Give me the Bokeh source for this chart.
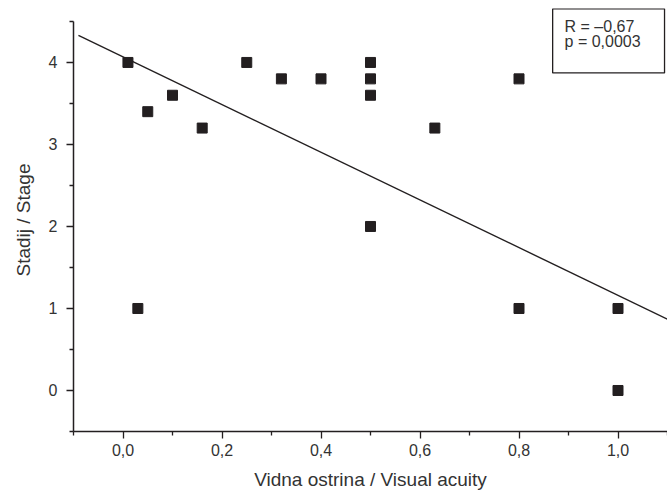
from bokeh.plotting import figure
from bokeh.models import Range1d, FixedTicker, CustomJSTickFormatter, Label
from bokeh.embed import file_html
from bokeh.resources import INLINE

# ---- data ----
visual_acuity = [0.01, 0.05, 0.10, 0.16, 0.03, 0.25, 0.32, 0.40, 0.50, 0.50, 0.50, 0.50, 0.63, 0.80, 0.80, 1.00, 1.00]
stage =         [4.0,  3.4,  3.6,  3.2,  1.0,  4.0,  3.8,  3.8,  4.0,  3.8,  3.6,  2.0,  3.2,  3.8,  1.0,  1.0,  0.0]

fit_x = [-0.09, 1.10]
fit_y = [4.33, 0.87]

x_major_ticks = [0.0, 0.2, 0.4, 0.6, 0.8, 1.0]
x_minor_ticks = [-0.1, 0.1, 0.3, 0.5, 0.7, 0.9, 1.1]
y_major_ticks = [0, 1, 2, 3, 4]
y_minor_ticks = [-0.5, 0.5, 1.5, 2.5, 3.5, 4.5]

stats_lines = ["R = \u20130,67", "p = 0,0003"]

x_label = "Vidna ostrina / Visual acuity"
y_label = "Stadij / Stage"

INK = "#231f20"
TXT = "#333333"
FONT = "Liberation Sans"

p = figure(width=667, height=492, output_backend="svg", toolbar_location=None,
           x_range=Range1d(-0.1, 1.1), y_range=Range1d(-0.5, 4.658),
           min_border_left=73, min_border_right=0, min_border_top=8, min_border_bottom=60)
p.outline_line_color = None
p.xgrid.visible = False
p.ygrid.visible = False
p.background_fill_color = "white"
p.border_fill_color = "white"

# axes
xa = p.xaxis[0]
ya = p.yaxis[0]
xa.ticker = FixedTicker(ticks=x_major_ticks, minor_ticks=x_minor_ticks)
ya.ticker = FixedTicker(ticks=y_major_ticks, minor_ticks=y_minor_ticks)
xa.formatter = CustomJSTickFormatter(code="return tick.toFixed(1).replace('.', ',');")
ya.formatter = CustomJSTickFormatter(code="return tick.toFixed(0);")
ya.bounds = (-0.5, 4.5)
for ax in (xa, ya):
    ax.axis_line_color = INK
    ax.axis_line_width = 1.5
    ax.major_tick_line_color = INK
    ax.major_tick_line_width = 1.3
    ax.minor_tick_line_color = INK
    ax.minor_tick_line_width = 1.3
    ax.major_tick_in = 0
    ax.major_tick_out = 7
    ax.minor_tick_in = 0
    ax.minor_tick_out = 4
    ax.major_label_text_font = FONT
    ax.major_label_text_font_size = "16px"
    ax.major_label_text_color = TXT
    ax.axis_label_text_font = FONT
    ax.axis_label_text_font_size = "19px"
    ax.axis_label_text_font_style = "normal"
    ax.axis_label_text_color = TXT
xa.axis_label = x_label
ya.axis_label = y_label
xa.major_label_standoff = 5
ya.major_label_standoff = 9
xa.axis_label_standoff = 10
ya.axis_label_standoff = 12
ya.major_label_orientation = "horizontal"

# regression line
p.line(fit_x, fit_y, line_color=INK, line_width=1.4)

# points
p.scatter(visual_acuity, stage, marker="square", size=10, fill_color=INK, line_color=INK)

# statistics box
p.quad(left=0.868, right=1.094, top=4.655, bottom=3.872,
       fill_color="white", line_color=INK, line_width=1.3)
for txt, yy in zip(stats_lines, [4.435, 4.26]):
    p.add_layout(Label(x=0.892, y=yy, text=txt, text_font=FONT, text_font_size="16px",
                       text_color=TXT, text_baseline="alphabetic", text_align="left"))

open("out.html", "w").write(file_html(p, INLINE))
